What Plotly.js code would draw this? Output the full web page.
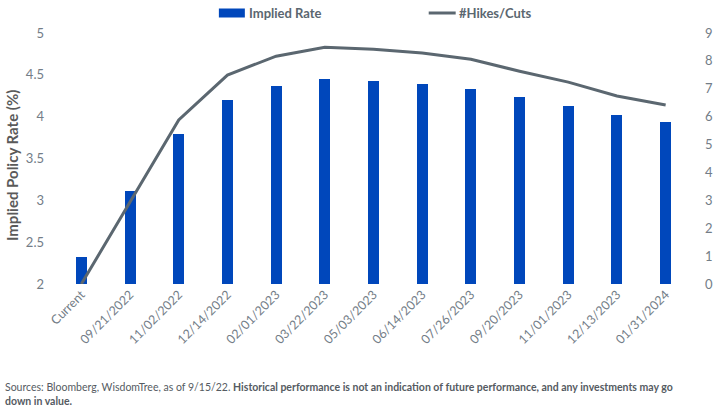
<!DOCTYPE html>
<html>
<head>
<meta charset="utf-8">
<script src="https://cdn.plot.ly/plotly-3.0.1.min.js"></script>
<style>
  html, body { margin: 0; padding: 0; background: #ffffff; }
  #chart { width: 720px; height: 413px; }
</style>
</head>
<body>
<div id="chart"></div>
<script>
// FOMC meeting dates (first entry is today's effective rate)
const meetings = ["Current", "09/21/2022", "11/02/2022", "12/14/2022", "02/01/2023",
  "03/22/2023", "05/03/2023", "06/14/2023", "07/26/2023", "09/20/2023",
  "11/01/2023", "12/13/2023", "01/31/2024"];

// Market-implied policy rate (%)
const impliedRate = [2.32, 3.11, 3.79, 4.20, 4.37, 4.45, 4.43, 4.39, 4.33, 4.23, 4.13, 4.02, 3.94];

// Cumulative number of 25bp hikes / cuts priced in
const hikesCuts = [0, 2.95, 5.88, 7.49, 8.17, 8.49, 8.42, 8.28, 8.06, 7.63, 7.24, 6.74, 6.42];

const leftTicks = [2, 2.5, 3, 3.5, 4, 4.5, 5];
const rightTicks = [0, 1, 2, 3, 4, 5, 6, 7, 8, 9];

const BLUE = "#0047bb";
const SLATE = "#5b6770";
const TICK = "#737d87";
const FONT = "Lato, 'Open Sans', sans-serif";

// plot area in pixels, used for placing the legend and notes
const L = 57, R = 690.5, T = 33, B = 284;
const px = x => (x - L) / (R - L);
const py = y => (B - y) / (B - T);

const traces = [
  {
    type: "bar",
    name: "Implied Rate",
    x: meetings,
    y: impliedRate,
    width: 0.225,
    marker: { color: BLUE },
    yaxis: "y",
    hoverinfo: "x+y"
  },
  {
    type: "scatter",
    mode: "lines",
    name: "#Hikes/Cuts",
    x: meetings,
    y: hikesCuts,
    line: { color: SLATE, width: 3 },
    yaxis: "y2",
    hoverinfo: "x+y"
  }
];

const layout = {
  width: 720,
  height: 413,
  margin: { l: L, r: 720 - R, t: T, b: 413 - B },
  paper_bgcolor: "#ffffff",
  plot_bgcolor: "#ffffff",
  showlegend: false,
  font: { family: FONT, color: TICK },
  bargap: 0,
  xaxis: {
    type: "category",
    categoryorder: "array",
    categoryarray: meetings,
    tickangle: -45,
    tickfont: { size: 12.5, color: TICK, family: FONT },
    showgrid: false,
    zeroline: false,
    showline: false,
    ticks: "",
    range: [-0.5, meetings.length - 0.5]
  },
  yaxis: {
    range: [2, 5],
    tickvals: leftTicks,
    ticktext: leftTicks.map(String),
    tickfont: { size: 13, color: TICK, family: FONT },
    showgrid: false,
    zeroline: false,
    showline: false,
    ticks: "",
    ticklabelstandoff: 12
  },
  yaxis2: {
    overlaying: "y",
    side: "right",
    range: [0, 9],
    tickvals: rightTicks,
    ticktext: rightTicks.map(String),
    tickfont: { size: 13, color: TICK, family: FONT },
    showgrid: false,
    zeroline: false,
    showline: false,
    ticks: "",
    ticklabelstandoff: 14
  },
  shapes: [
    { type: "rect", xref: "paper", yref: "paper",
      x0: px(219), x1: px(245), y0: py(17.5), y1: py(8.5),
      fillcolor: BLUE, line: { width: 0 } },
    { type: "line", xref: "paper", yref: "paper",
      x0: px(429), x1: px(456), y0: py(13), y1: py(13),
      line: { color: SLATE, width: 3 } }
  ],
  annotations: [
    { xref: "paper", yref: "paper", x: px(247), y: py(13), xanchor: "left", yanchor: "middle",
      text: "<b>Implied Rate</b>", showarrow: false,
      font: { size: 13, color: SLATE, family: FONT } },
    { xref: "paper", yref: "paper", x: px(457), y: py(13), xanchor: "left", yanchor: "middle",
      text: "<b>#Hikes/Cuts</b>", showarrow: false,
      font: { size: 13, color: SLATE, family: FONT } },
    // left axis title
    { xref: "paper", yref: "paper", x: px(12), y: py(166), xanchor: "center", yanchor: "middle",
      text: "<b>Implied Policy Rate (%)</b>", textangle: -90, showarrow: false,
      font: { size: 15, color: "#5a5a5a", family: FONT } },
    { xref: "paper", yref: "paper", x: px(3), y: py(379), xanchor: "left", yanchor: "top",
      align: "left",
      text: "Sources: Bloomberg, WisdomTree, as of 9/15/22. <b>Historical performance is not an indication of future performance, and any investments may go<br>down in value.</b>",
      showarrow: false,
      font: { size: 10.5, color: "#555b62", family: FONT } }
  ]
};

Plotly.newPlot("chart", traces, layout, { displayModeBar: false, staticPlot: true });
</script>
</body>
</html>
